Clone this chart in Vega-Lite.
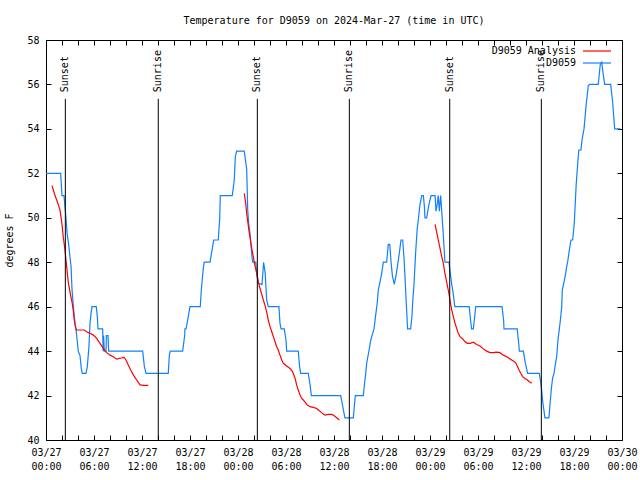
{
  "$schema": "https://vega.github.io/schema/vega-lite/v6.json",
  "width": 576,
  "height": 400,
  "autosize": {"type": "none"},
  "padding": {"left": 46, "top": 40, "right": 18, "bottom": 40},
  "background": "white",
  "title": {"text": "Temperature for D9059 on 2024-Mar-27 (time in UTC)", "font": "DejaVu Sans Mono", "fontSize": 10, "fontWeight": "normal", "color": "black", "anchor": "middle", "offset": 1, "baseline": "alphabetic"},
  "config": {
    "view": {"stroke": "black", "strokeWidth": 1},
    "axis": {"grid": false, "domain": false, "labelFont": "DejaVu Sans Mono", "labelFontSize": 10, "labelColor": "black", "tickColor": "black", "tickSize": -5, "tickWidth": 1, "titleFont": "DejaVu Sans Mono", "titleFontSize": 10, "titleFontWeight": "normal", "titleColor": "black"}
  },
  "datasets": {
    "obs": [
      {"time": "2024-03-27T00:00:00Z", "temp": 52, "series": "D9059", "segment": "obs"},
      {"time": "2024-03-27T01:50:00Z", "temp": 52, "series": "D9059", "segment": "obs"},
      {"time": "2024-03-27T02:00:00Z", "temp": 51, "series": "D9059", "segment": "obs"},
      {"time": "2024-03-27T02:15:00Z", "temp": 51, "series": "D9059", "segment": "obs"},
      {"time": "2024-03-27T02:22:00Z", "temp": 50.5, "series": "D9059", "segment": "obs"},
      {"time": "2024-03-27T02:30:00Z", "temp": 50, "series": "D9059", "segment": "obs"},
      {"time": "2024-03-27T02:38:00Z", "temp": 49.3, "series": "D9059", "segment": "obs"},
      {"time": "2024-03-27T02:50:00Z", "temp": 48.8, "series": "D9059", "segment": "obs"},
      {"time": "2024-03-27T03:00:00Z", "temp": 48.2, "series": "D9059", "segment": "obs"},
      {"time": "2024-03-27T03:08:00Z", "temp": 47.8, "series": "D9059", "segment": "obs"},
      {"time": "2024-03-27T03:15:00Z", "temp": 46.8, "series": "D9059", "segment": "obs"},
      {"time": "2024-03-27T03:25:00Z", "temp": 46, "series": "D9059", "segment": "obs"},
      {"time": "2024-03-27T03:38:00Z", "temp": 45.25, "series": "D9059", "segment": "obs"},
      {"time": "2024-03-27T03:45:00Z", "temp": 45, "series": "D9059", "segment": "obs"},
      {"time": "2024-03-27T03:50:00Z", "temp": 44.7, "series": "D9059", "segment": "obs"},
      {"time": "2024-03-27T04:02:00Z", "temp": 44, "series": "D9059", "segment": "obs"},
      {"time": "2024-03-27T04:15:00Z", "temp": 43.8, "series": "D9059", "segment": "obs"},
      {"time": "2024-03-27T04:25:00Z", "temp": 43.2, "series": "D9059", "segment": "obs"},
      {"time": "2024-03-27T04:32:00Z", "temp": 43, "series": "D9059", "segment": "obs"},
      {"time": "2024-03-27T05:00:00Z", "temp": 43, "series": "D9059", "segment": "obs"},
      {"time": "2024-03-27T05:10:00Z", "temp": 43.3, "series": "D9059", "segment": "obs"},
      {"time": "2024-03-27T05:22:00Z", "temp": 44.2, "series": "D9059", "segment": "obs"},
      {"time": "2024-03-27T05:30:00Z", "temp": 45.25, "series": "D9059", "segment": "obs"},
      {"time": "2024-03-27T05:38:00Z", "temp": 45.7, "series": "D9059", "segment": "obs"},
      {"time": "2024-03-27T05:45:00Z", "temp": 46, "series": "D9059", "segment": "obs"},
      {"time": "2024-03-27T06:17:00Z", "temp": 46, "series": "D9059", "segment": "obs"},
      {"time": "2024-03-27T06:25:00Z", "temp": 45.55, "series": "D9059", "segment": "obs"},
      {"time": "2024-03-27T06:30:00Z", "temp": 45, "series": "D9059", "segment": "obs"},
      {"time": "2024-03-27T07:05:00Z", "temp": 45, "series": "D9059", "segment": "obs"},
      {"time": "2024-03-27T07:08:00Z", "temp": 44, "series": "D9059", "segment": "obs"},
      {"time": "2024-03-27T07:12:00Z", "temp": 44.7, "series": "D9059", "segment": "obs"},
      {"time": "2024-03-27T07:17:00Z", "temp": 44, "series": "D9059", "segment": "obs"},
      {"time": "2024-03-27T07:30:00Z", "temp": 44, "series": "D9059", "segment": "obs"},
      {"time": "2024-03-27T07:33:00Z", "temp": 44.7, "series": "D9059", "segment": "obs"},
      {"time": "2024-03-27T07:45:00Z", "temp": 44.7, "series": "D9059", "segment": "obs"},
      {"time": "2024-03-27T07:50:00Z", "temp": 44, "series": "D9059", "segment": "obs"},
      {"time": "2024-03-27T12:05:00Z", "temp": 44, "series": "D9059", "segment": "obs"},
      {"time": "2024-03-27T12:18:00Z", "temp": 43.3, "series": "D9059", "segment": "obs"},
      {"time": "2024-03-27T12:30:00Z", "temp": 43, "series": "D9059", "segment": "obs"},
      {"time": "2024-03-27T15:17:00Z", "temp": 43, "series": "D9059", "segment": "obs"},
      {"time": "2024-03-27T15:25:00Z", "temp": 43.8, "series": "D9059", "segment": "obs"},
      {"time": "2024-03-27T15:32:00Z", "temp": 44, "series": "D9059", "segment": "obs"},
      {"time": "2024-03-27T17:05:00Z", "temp": 44, "series": "D9059", "segment": "obs"},
      {"time": "2024-03-27T17:20:00Z", "temp": 44.7, "series": "D9059", "segment": "obs"},
      {"time": "2024-03-27T17:22:00Z", "temp": 45, "series": "D9059", "segment": "obs"},
      {"time": "2024-03-27T17:30:00Z", "temp": 45, "series": "D9059", "segment": "obs"},
      {"time": "2024-03-27T17:37:00Z", "temp": 45.2, "series": "D9059", "segment": "obs"},
      {"time": "2024-03-27T18:00:00Z", "temp": 46, "series": "D9059", "segment": "obs"},
      {"time": "2024-03-27T19:17:00Z", "temp": 46, "series": "D9059", "segment": "obs"},
      {"time": "2024-03-27T19:25:00Z", "temp": 46.75, "series": "D9059", "segment": "obs"},
      {"time": "2024-03-27T19:40:00Z", "temp": 47.75, "series": "D9059", "segment": "obs"},
      {"time": "2024-03-27T19:47:00Z", "temp": 48, "series": "D9059", "segment": "obs"},
      {"time": "2024-03-27T20:30:00Z", "temp": 48, "series": "D9059", "segment": "obs"},
      {"time": "2024-03-27T20:47:00Z", "temp": 48.6, "series": "D9059", "segment": "obs"},
      {"time": "2024-03-27T20:58:00Z", "temp": 49, "series": "D9059", "segment": "obs"},
      {"time": "2024-03-27T21:32:00Z", "temp": 49, "series": "D9059", "segment": "obs"},
      {"time": "2024-03-27T21:43:00Z", "temp": 50, "series": "D9059", "segment": "obs"},
      {"time": "2024-03-27T21:47:00Z", "temp": 51, "series": "D9059", "segment": "obs"},
      {"time": "2024-03-27T23:17:00Z", "temp": 51, "series": "D9059", "segment": "obs"},
      {"time": "2024-03-27T23:32:00Z", "temp": 51.7, "series": "D9059", "segment": "obs"},
      {"time": "2024-03-27T23:40:00Z", "temp": 52.75, "series": "D9059", "segment": "obs"},
      {"time": "2024-03-27T23:50:00Z", "temp": 53, "series": "D9059", "segment": "obs"},
      {"time": "2024-03-28T00:47:00Z", "temp": 53, "series": "D9059", "segment": "obs"},
      {"time": "2024-03-28T00:58:00Z", "temp": 52.5, "series": "D9059", "segment": "obs"},
      {"time": "2024-03-28T01:05:00Z", "temp": 52.2, "series": "D9059", "segment": "obs"},
      {"time": "2024-03-28T01:08:00Z", "temp": 51.55, "series": "D9059", "segment": "obs"},
      {"time": "2024-03-28T01:13:00Z", "temp": 50.35, "series": "D9059", "segment": "obs"},
      {"time": "2024-03-28T01:20:00Z", "temp": 49.75, "series": "D9059", "segment": "obs"},
      {"time": "2024-03-28T01:30:00Z", "temp": 49.3, "series": "D9059", "segment": "obs"},
      {"time": "2024-03-28T01:38:00Z", "temp": 48.7, "series": "D9059", "segment": "obs"},
      {"time": "2024-03-28T01:45:00Z", "temp": 48.25, "series": "D9059", "segment": "obs"},
      {"time": "2024-03-28T01:50:00Z", "temp": 48, "series": "D9059", "segment": "obs"},
      {"time": "2024-03-28T02:13:00Z", "temp": 48, "series": "D9059", "segment": "obs"},
      {"time": "2024-03-28T02:20:00Z", "temp": 47.5, "series": "D9059", "segment": "obs"},
      {"time": "2024-03-28T02:32:00Z", "temp": 47.05, "series": "D9059", "segment": "obs"},
      {"time": "2024-03-28T03:00:00Z", "temp": 47, "series": "D9059", "segment": "obs"},
      {"time": "2024-03-28T03:12:00Z", "temp": 48, "series": "D9059", "segment": "obs"},
      {"time": "2024-03-28T03:24:00Z", "temp": 47.5, "series": "D9059", "segment": "obs"},
      {"time": "2024-03-28T03:35:00Z", "temp": 46.3, "series": "D9059", "segment": "obs"},
      {"time": "2024-03-28T03:47:00Z", "temp": 46, "series": "D9059", "segment": "obs"},
      {"time": "2024-03-28T05:07:00Z", "temp": 46, "series": "D9059", "segment": "obs"},
      {"time": "2024-03-28T05:15:00Z", "temp": 45.25, "series": "D9059", "segment": "obs"},
      {"time": "2024-03-28T05:23:00Z", "temp": 45, "series": "D9059", "segment": "obs"},
      {"time": "2024-03-28T05:47:00Z", "temp": 45, "series": "D9059", "segment": "obs"},
      {"time": "2024-03-28T06:00:00Z", "temp": 44.5, "series": "D9059", "segment": "obs"},
      {"time": "2024-03-28T06:05:00Z", "temp": 44, "series": "D9059", "segment": "obs"},
      {"time": "2024-03-28T07:32:00Z", "temp": 44, "series": "D9059", "segment": "obs"},
      {"time": "2024-03-28T07:42:00Z", "temp": 43.3, "series": "D9059", "segment": "obs"},
      {"time": "2024-03-28T07:50:00Z", "temp": 43, "series": "D9059", "segment": "obs"},
      {"time": "2024-03-28T08:47:00Z", "temp": 43, "series": "D9059", "segment": "obs"},
      {"time": "2024-03-28T09:00:00Z", "temp": 42.5, "series": "D9059", "segment": "obs"},
      {"time": "2024-03-28T09:10:00Z", "temp": 42, "series": "D9059", "segment": "obs"},
      {"time": "2024-03-28T12:50:00Z", "temp": 42, "series": "D9059", "segment": "obs"},
      {"time": "2024-03-28T13:00:00Z", "temp": 41.7, "series": "D9059", "segment": "obs"},
      {"time": "2024-03-28T13:12:00Z", "temp": 41.3, "series": "D9059", "segment": "obs"},
      {"time": "2024-03-28T13:22:00Z", "temp": 41, "series": "D9059", "segment": "obs"},
      {"time": "2024-03-28T14:25:00Z", "temp": 41, "series": "D9059", "segment": "obs"},
      {"time": "2024-03-28T14:32:00Z", "temp": 41.5, "series": "D9059", "segment": "obs"},
      {"time": "2024-03-28T14:40:00Z", "temp": 42, "series": "D9059", "segment": "obs"},
      {"time": "2024-03-28T15:40:00Z", "temp": 42, "series": "D9059", "segment": "obs"},
      {"time": "2024-03-28T15:48:00Z", "temp": 42.5, "series": "D9059", "segment": "obs"},
      {"time": "2024-03-28T15:58:00Z", "temp": 43, "series": "D9059", "segment": "obs"},
      {"time": "2024-03-28T16:06:00Z", "temp": 43.5, "series": "D9059", "segment": "obs"},
      {"time": "2024-03-28T16:22:00Z", "temp": 44, "series": "D9059", "segment": "obs"},
      {"time": "2024-03-28T16:36:00Z", "temp": 44.5, "series": "D9059", "segment": "obs"},
      {"time": "2024-03-28T16:50:00Z", "temp": 44.8, "series": "D9059", "segment": "obs"},
      {"time": "2024-03-28T17:00:00Z", "temp": 45, "series": "D9059", "segment": "obs"},
      {"time": "2024-03-28T17:12:00Z", "temp": 45.6, "series": "D9059", "segment": "obs"},
      {"time": "2024-03-28T17:25:00Z", "temp": 46.2, "series": "D9059", "segment": "obs"},
      {"time": "2024-03-28T17:32:00Z", "temp": 46.75, "series": "D9059", "segment": "obs"},
      {"time": "2024-03-28T17:43:00Z", "temp": 47.05, "series": "D9059", "segment": "obs"},
      {"time": "2024-03-28T17:58:00Z", "temp": 47.5, "series": "D9059", "segment": "obs"},
      {"time": "2024-03-28T18:10:00Z", "temp": 48, "series": "D9059", "segment": "obs"},
      {"time": "2024-03-28T18:35:00Z", "temp": 48, "series": "D9059", "segment": "obs"},
      {"time": "2024-03-28T18:47:00Z", "temp": 48.8, "series": "D9059", "segment": "obs"},
      {"time": "2024-03-28T18:58:00Z", "temp": 48.8, "series": "D9059", "segment": "obs"},
      {"time": "2024-03-28T19:08:00Z", "temp": 48, "series": "D9059", "segment": "obs"},
      {"time": "2024-03-28T19:18:00Z", "temp": 47.4, "series": "D9059", "segment": "obs"},
      {"time": "2024-03-28T19:32:00Z", "temp": 47, "series": "D9059", "segment": "obs"},
      {"time": "2024-03-28T19:45:00Z", "temp": 47.4, "series": "D9059", "segment": "obs"},
      {"time": "2024-03-28T19:58:00Z", "temp": 47.9, "series": "D9059", "segment": "obs"},
      {"time": "2024-03-28T20:12:00Z", "temp": 48.5, "series": "D9059", "segment": "obs"},
      {"time": "2024-03-28T20:22:00Z", "temp": 49, "series": "D9059", "segment": "obs"},
      {"time": "2024-03-28T20:35:00Z", "temp": 49, "series": "D9059", "segment": "obs"},
      {"time": "2024-03-28T20:45:00Z", "temp": 48.2, "series": "D9059", "segment": "obs"},
      {"time": "2024-03-28T20:52:00Z", "temp": 47.4, "series": "D9059", "segment": "obs"},
      {"time": "2024-03-28T21:00:00Z", "temp": 46.4, "series": "D9059", "segment": "obs"},
      {"time": "2024-03-28T21:12:00Z", "temp": 45, "series": "D9059", "segment": "obs"},
      {"time": "2024-03-28T21:35:00Z", "temp": 45, "series": "D9059", "segment": "obs"},
      {"time": "2024-03-28T21:45:00Z", "temp": 45.6, "series": "D9059", "segment": "obs"},
      {"time": "2024-03-28T21:50:00Z", "temp": 46.2, "series": "D9059", "segment": "obs"},
      {"time": "2024-03-28T22:00:00Z", "temp": 47, "series": "D9059", "segment": "obs"},
      {"time": "2024-03-28T22:12:00Z", "temp": 48.4, "series": "D9059", "segment": "obs"},
      {"time": "2024-03-28T22:24:00Z", "temp": 49.5, "series": "D9059", "segment": "obs"},
      {"time": "2024-03-28T22:32:00Z", "temp": 49.9, "series": "D9059", "segment": "obs"},
      {"time": "2024-03-28T22:45:00Z", "temp": 50.6, "series": "D9059", "segment": "obs"},
      {"time": "2024-03-28T22:58:00Z", "temp": 51, "series": "D9059", "segment": "obs"},
      {"time": "2024-03-28T23:10:00Z", "temp": 51, "series": "D9059", "segment": "obs"},
      {"time": "2024-03-28T23:18:00Z", "temp": 50.5, "series": "D9059", "segment": "obs"},
      {"time": "2024-03-28T23:22:00Z", "temp": 50, "series": "D9059", "segment": "obs"},
      {"time": "2024-03-28T23:35:00Z", "temp": 50, "series": "D9059", "segment": "obs"},
      {"time": "2024-03-28T23:52:00Z", "temp": 50.6, "series": "D9059", "segment": "obs"},
      {"time": "2024-03-29T00:08:00Z", "temp": 51, "series": "D9059", "segment": "obs"},
      {"time": "2024-03-29T00:38:00Z", "temp": 51, "series": "D9059", "segment": "obs"},
      {"time": "2024-03-29T00:45:00Z", "temp": 50.3, "series": "D9059", "segment": "obs"},
      {"time": "2024-03-29T00:54:00Z", "temp": 50.6, "series": "D9059", "segment": "obs"},
      {"time": "2024-03-29T01:02:00Z", "temp": 51, "series": "D9059", "segment": "obs"},
      {"time": "2024-03-29T01:10:00Z", "temp": 50.3, "series": "D9059", "segment": "obs"},
      {"time": "2024-03-29T01:20:00Z", "temp": 51, "series": "D9059", "segment": "obs"},
      {"time": "2024-03-29T01:28:00Z", "temp": 50.3, "series": "D9059", "segment": "obs"},
      {"time": "2024-03-29T01:40:00Z", "temp": 49.2, "series": "D9059", "segment": "obs"},
      {"time": "2024-03-29T01:52:00Z", "temp": 48, "series": "D9059", "segment": "obs"},
      {"time": "2024-03-29T02:22:00Z", "temp": 48, "series": "D9059", "segment": "obs"},
      {"time": "2024-03-29T02:30:00Z", "temp": 47.6, "series": "D9059", "segment": "obs"},
      {"time": "2024-03-29T02:43:00Z", "temp": 47, "series": "D9059", "segment": "obs"},
      {"time": "2024-03-29T02:54:00Z", "temp": 46.6, "series": "D9059", "segment": "obs"},
      {"time": "2024-03-29T03:06:00Z", "temp": 46, "series": "D9059", "segment": "obs"},
      {"time": "2024-03-29T04:54:00Z", "temp": 46, "series": "D9059", "segment": "obs"},
      {"time": "2024-03-29T05:06:00Z", "temp": 45.3, "series": "D9059", "segment": "obs"},
      {"time": "2024-03-29T05:12:00Z", "temp": 45, "series": "D9059", "segment": "obs"},
      {"time": "2024-03-29T05:25:00Z", "temp": 45, "series": "D9059", "segment": "obs"},
      {"time": "2024-03-29T05:36:00Z", "temp": 45.6, "series": "D9059", "segment": "obs"},
      {"time": "2024-03-29T05:43:00Z", "temp": 46, "series": "D9059", "segment": "obs"},
      {"time": "2024-03-29T09:00:00Z", "temp": 46, "series": "D9059", "segment": "obs"},
      {"time": "2024-03-29T09:12:00Z", "temp": 45.4, "series": "D9059", "segment": "obs"},
      {"time": "2024-03-29T09:15:00Z", "temp": 45, "series": "D9059", "segment": "obs"},
      {"time": "2024-03-29T10:54:00Z", "temp": 45, "series": "D9059", "segment": "obs"},
      {"time": "2024-03-29T11:06:00Z", "temp": 44.3, "series": "D9059", "segment": "obs"},
      {"time": "2024-03-29T11:10:00Z", "temp": 44, "series": "D9059", "segment": "obs"},
      {"time": "2024-03-29T11:40:00Z", "temp": 44, "series": "D9059", "segment": "obs"},
      {"time": "2024-03-29T11:54:00Z", "temp": 43.5, "series": "D9059", "segment": "obs"},
      {"time": "2024-03-29T12:12:00Z", "temp": 43, "series": "D9059", "segment": "obs"},
      {"time": "2024-03-29T13:40:00Z", "temp": 43, "series": "D9059", "segment": "obs"},
      {"time": "2024-03-29T13:50:00Z", "temp": 42.6, "series": "D9059", "segment": "obs"},
      {"time": "2024-03-29T13:58:00Z", "temp": 42.2, "series": "D9059", "segment": "obs"},
      {"time": "2024-03-29T14:06:00Z", "temp": 41.7, "series": "D9059", "segment": "obs"},
      {"time": "2024-03-29T14:22:00Z", "temp": 41, "series": "D9059", "segment": "obs"},
      {"time": "2024-03-29T14:52:00Z", "temp": 41, "series": "D9059", "segment": "obs"},
      {"time": "2024-03-29T15:00:00Z", "temp": 41.6, "series": "D9059", "segment": "obs"},
      {"time": "2024-03-29T15:10:00Z", "temp": 42.3, "series": "D9059", "segment": "obs"},
      {"time": "2024-03-29T15:20:00Z", "temp": 42.8, "series": "D9059", "segment": "obs"},
      {"time": "2024-03-29T15:30:00Z", "temp": 43, "series": "D9059", "segment": "obs"},
      {"time": "2024-03-29T15:40:00Z", "temp": 43.4, "series": "D9059", "segment": "obs"},
      {"time": "2024-03-29T15:50:00Z", "temp": 43.75, "series": "D9059", "segment": "obs"},
      {"time": "2024-03-29T16:00:00Z", "temp": 44.5, "series": "D9059", "segment": "obs"},
      {"time": "2024-03-29T16:10:00Z", "temp": 45, "series": "D9059", "segment": "obs"},
      {"time": "2024-03-29T16:18:00Z", "temp": 45.4, "series": "D9059", "segment": "obs"},
      {"time": "2024-03-29T16:28:00Z", "temp": 46, "series": "D9059", "segment": "obs"},
      {"time": "2024-03-29T16:32:00Z", "temp": 46.75, "series": "D9059", "segment": "obs"},
      {"time": "2024-03-29T16:45:00Z", "temp": 47.1, "series": "D9059", "segment": "obs"},
      {"time": "2024-03-29T16:58:00Z", "temp": 47.5, "series": "D9059", "segment": "obs"},
      {"time": "2024-03-29T17:05:00Z", "temp": 47.8, "series": "D9059", "segment": "obs"},
      {"time": "2024-03-29T17:12:00Z", "temp": 48, "series": "D9059", "segment": "obs"},
      {"time": "2024-03-29T17:30:00Z", "temp": 48.75, "series": "D9059", "segment": "obs"},
      {"time": "2024-03-29T17:38:00Z", "temp": 49, "series": "D9059", "segment": "obs"},
      {"time": "2024-03-29T17:50:00Z", "temp": 49, "series": "D9059", "segment": "obs"},
      {"time": "2024-03-29T18:02:00Z", "temp": 49.75, "series": "D9059", "segment": "obs"},
      {"time": "2024-03-29T18:08:00Z", "temp": 50.5, "series": "D9059", "segment": "obs"},
      {"time": "2024-03-29T18:17:00Z", "temp": 51.55, "series": "D9059", "segment": "obs"},
      {"time": "2024-03-29T18:28:00Z", "temp": 52.45, "series": "D9059", "segment": "obs"},
      {"time": "2024-03-29T18:36:00Z", "temp": 53.05, "series": "D9059", "segment": "obs"},
      {"time": "2024-03-29T18:52:00Z", "temp": 53.05, "series": "D9059", "segment": "obs"},
      {"time": "2024-03-29T19:00:00Z", "temp": 53.5, "series": "D9059", "segment": "obs"},
      {"time": "2024-03-29T19:15:00Z", "temp": 54, "series": "D9059", "segment": "obs"},
      {"time": "2024-03-29T19:30:00Z", "temp": 55, "series": "D9059", "segment": "obs"},
      {"time": "2024-03-29T19:47:00Z", "temp": 55.95, "series": "D9059", "segment": "obs"},
      {"time": "2024-03-29T20:00:00Z", "temp": 56, "series": "D9059", "segment": "obs"},
      {"time": "2024-03-29T21:02:00Z", "temp": 56, "series": "D9059", "segment": "obs"},
      {"time": "2024-03-29T21:17:00Z", "temp": 56.9, "series": "D9059", "segment": "obs"},
      {"time": "2024-03-29T21:28:00Z", "temp": 57, "series": "D9059", "segment": "obs"},
      {"time": "2024-03-29T21:38:00Z", "temp": 56.5, "series": "D9059", "segment": "obs"},
      {"time": "2024-03-29T21:50:00Z", "temp": 56, "series": "D9059", "segment": "obs"},
      {"time": "2024-03-29T22:35:00Z", "temp": 56, "series": "D9059", "segment": "obs"},
      {"time": "2024-03-29T22:50:00Z", "temp": 55.2, "series": "D9059", "segment": "obs"},
      {"time": "2024-03-29T22:58:00Z", "temp": 54.55, "series": "D9059", "segment": "obs"},
      {"time": "2024-03-29T23:05:00Z", "temp": 54, "series": "D9059", "segment": "obs"},
      {"time": "2024-03-29T23:48:00Z", "temp": 54, "series": "D9059", "segment": "obs"},
      {"time": "2024-03-27T00:45:00Z", "temp": 51.45, "series": "D9059 Analysis", "segment": "a1"},
      {"time": "2024-03-27T00:55:00Z", "temp": 51.25, "series": "D9059 Analysis", "segment": "a1"},
      {"time": "2024-03-27T01:08:00Z", "temp": 51.0, "series": "D9059 Analysis", "segment": "a1"},
      {"time": "2024-03-27T01:20:00Z", "temp": 50.8, "series": "D9059 Analysis", "segment": "a1"},
      {"time": "2024-03-27T01:32:00Z", "temp": 50.6, "series": "D9059 Analysis", "segment": "a1"},
      {"time": "2024-03-27T01:45:00Z", "temp": 50.35, "series": "D9059 Analysis", "segment": "a1"},
      {"time": "2024-03-27T01:52:00Z", "temp": 50.05, "series": "D9059 Analysis", "segment": "a1"},
      {"time": "2024-03-27T02:00:00Z", "temp": 49.7, "series": "D9059 Analysis", "segment": "a1"},
      {"time": "2024-03-27T02:05:00Z", "temp": 49.4, "series": "D9059 Analysis", "segment": "a1"},
      {"time": "2024-03-27T02:10:00Z", "temp": 49.1, "series": "D9059 Analysis", "segment": "a1"},
      {"time": "2024-03-27T02:17:00Z", "temp": 48.8, "series": "D9059 Analysis", "segment": "a1"},
      {"time": "2024-03-27T02:25:00Z", "temp": 48.4, "series": "D9059 Analysis", "segment": "a1"},
      {"time": "2024-03-27T02:30:00Z", "temp": 48.1, "series": "D9059 Analysis", "segment": "a1"},
      {"time": "2024-03-27T02:40:00Z", "temp": 47.5, "series": "D9059 Analysis", "segment": "a1"},
      {"time": "2024-03-27T02:47:00Z", "temp": 47.1, "series": "D9059 Analysis", "segment": "a1"},
      {"time": "2024-03-27T03:05:00Z", "temp": 46.5, "series": "D9059 Analysis", "segment": "a1"},
      {"time": "2024-03-27T03:17:00Z", "temp": 46.15, "series": "D9059 Analysis", "segment": "a1"},
      {"time": "2024-03-27T03:25:00Z", "temp": 45.8, "series": "D9059 Analysis", "segment": "a1"},
      {"time": "2024-03-27T03:32:00Z", "temp": 45.4, "series": "D9059 Analysis", "segment": "a1"},
      {"time": "2024-03-27T03:40:00Z", "temp": 45.1, "series": "D9059 Analysis", "segment": "a1"},
      {"time": "2024-03-27T03:47:00Z", "temp": 44.95, "series": "D9059 Analysis", "segment": "a1"},
      {"time": "2024-03-27T04:47:00Z", "temp": 44.95, "series": "D9059 Analysis", "segment": "a1"},
      {"time": "2024-03-27T05:05:00Z", "temp": 44.87, "series": "D9059 Analysis", "segment": "a1"},
      {"time": "2024-03-27T05:30:00Z", "temp": 44.8, "series": "D9059 Analysis", "segment": "a1"},
      {"time": "2024-03-27T05:55:00Z", "temp": 44.72, "series": "D9059 Analysis", "segment": "a1"},
      {"time": "2024-03-27T06:20:00Z", "temp": 44.57, "series": "D9059 Analysis", "segment": "a1"},
      {"time": "2024-03-27T06:45:00Z", "temp": 44.35, "series": "D9059 Analysis", "segment": "a1"},
      {"time": "2024-03-27T07:10:00Z", "temp": 44.12, "series": "D9059 Analysis", "segment": "a1"},
      {"time": "2024-03-27T07:35:00Z", "temp": 43.93, "series": "D9059 Analysis", "segment": "a1"},
      {"time": "2024-03-27T08:00:00Z", "temp": 43.82, "series": "D9059 Analysis", "segment": "a1"},
      {"time": "2024-03-27T08:25:00Z", "temp": 43.75, "series": "D9059 Analysis", "segment": "a1"},
      {"time": "2024-03-27T08:50:00Z", "temp": 43.64, "series": "D9059 Analysis", "segment": "a1"},
      {"time": "2024-03-27T09:15:00Z", "temp": 43.68, "series": "D9059 Analysis", "segment": "a1"},
      {"time": "2024-03-27T09:45:00Z", "temp": 43.72, "series": "D9059 Analysis", "segment": "a1"},
      {"time": "2024-03-27T10:00:00Z", "temp": 43.6, "series": "D9059 Analysis", "segment": "a1"},
      {"time": "2024-03-27T10:17:00Z", "temp": 43.38, "series": "D9059 Analysis", "segment": "a1"},
      {"time": "2024-03-27T10:35:00Z", "temp": 43.15, "series": "D9059 Analysis", "segment": "a1"},
      {"time": "2024-03-27T10:55:00Z", "temp": 42.93, "series": "D9059 Analysis", "segment": "a1"},
      {"time": "2024-03-27T11:20:00Z", "temp": 42.7, "series": "D9059 Analysis", "segment": "a1"},
      {"time": "2024-03-27T11:45:00Z", "temp": 42.48, "series": "D9059 Analysis", "segment": "a1"},
      {"time": "2024-03-27T12:15:00Z", "temp": 42.46, "series": "D9059 Analysis", "segment": "a1"},
      {"time": "2024-03-27T12:47:00Z", "temp": 42.46, "series": "D9059 Analysis", "segment": "a1"},
      {"time": "2024-03-28T00:47:00Z", "temp": 51.1, "series": "D9059 Analysis", "segment": "a2"},
      {"time": "2024-03-28T00:58:00Z", "temp": 50.65, "series": "D9059 Analysis", "segment": "a2"},
      {"time": "2024-03-28T01:05:00Z", "temp": 50.2, "series": "D9059 Analysis", "segment": "a2"},
      {"time": "2024-03-28T01:15:00Z", "temp": 49.75, "series": "D9059 Analysis", "segment": "a2"},
      {"time": "2024-03-28T01:25:00Z", "temp": 49.3, "series": "D9059 Analysis", "segment": "a2"},
      {"time": "2024-03-28T01:35:00Z", "temp": 48.95, "series": "D9059 Analysis", "segment": "a2"},
      {"time": "2024-03-28T01:45:00Z", "temp": 48.55, "series": "D9059 Analysis", "segment": "a2"},
      {"time": "2024-03-28T01:55:00Z", "temp": 48.25, "series": "D9059 Analysis", "segment": "a2"},
      {"time": "2024-03-28T02:05:00Z", "temp": 47.9, "series": "D9059 Analysis", "segment": "a2"},
      {"time": "2024-03-28T02:15:00Z", "temp": 47.65, "series": "D9059 Analysis", "segment": "a2"},
      {"time": "2024-03-28T02:35:00Z", "temp": 47.05, "series": "D9059 Analysis", "segment": "a2"},
      {"time": "2024-03-28T02:45:00Z", "temp": 46.83, "series": "D9059 Analysis", "segment": "a2"},
      {"time": "2024-03-28T02:58:00Z", "temp": 46.55, "series": "D9059 Analysis", "segment": "a2"},
      {"time": "2024-03-28T03:10:00Z", "temp": 46.3, "series": "D9059 Analysis", "segment": "a2"},
      {"time": "2024-03-28T03:22:00Z", "temp": 46.07, "series": "D9059 Analysis", "segment": "a2"},
      {"time": "2024-03-28T03:35:00Z", "temp": 45.77, "series": "D9059 Analysis", "segment": "a2"},
      {"time": "2024-03-28T03:47:00Z", "temp": 45.4, "series": "D9059 Analysis", "segment": "a2"},
      {"time": "2024-03-28T04:00:00Z", "temp": 45.1, "series": "D9059 Analysis", "segment": "a2"},
      {"time": "2024-03-28T04:13:00Z", "temp": 44.87, "series": "D9059 Analysis", "segment": "a2"},
      {"time": "2024-03-28T04:25:00Z", "temp": 44.65, "series": "D9059 Analysis", "segment": "a2"},
      {"time": "2024-03-28T04:38:00Z", "temp": 44.42, "series": "D9059 Analysis", "segment": "a2"},
      {"time": "2024-03-28T04:50:00Z", "temp": 44.2, "series": "D9059 Analysis", "segment": "a2"},
      {"time": "2024-03-28T05:02:00Z", "temp": 44.05, "series": "D9059 Analysis", "segment": "a2"},
      {"time": "2024-03-28T05:15:00Z", "temp": 43.82, "series": "D9059 Analysis", "segment": "a2"},
      {"time": "2024-03-28T05:28:00Z", "temp": 43.6, "series": "D9059 Analysis", "segment": "a2"},
      {"time": "2024-03-28T05:40:00Z", "temp": 43.45, "series": "D9059 Analysis", "segment": "a2"},
      {"time": "2024-03-28T06:05:00Z", "temp": 43.33, "series": "D9059 Analysis", "segment": "a2"},
      {"time": "2024-03-28T06:30:00Z", "temp": 43.22, "series": "D9059 Analysis", "segment": "a2"},
      {"time": "2024-03-28T06:50:00Z", "temp": 43.07, "series": "D9059 Analysis", "segment": "a2"},
      {"time": "2024-03-28T07:08:00Z", "temp": 42.78, "series": "D9059 Analysis", "segment": "a2"},
      {"time": "2024-03-28T07:20:00Z", "temp": 42.47, "series": "D9059 Analysis", "segment": "a2"},
      {"time": "2024-03-28T07:32:00Z", "temp": 42.25, "series": "D9059 Analysis", "segment": "a2"},
      {"time": "2024-03-28T07:45:00Z", "temp": 42.02, "series": "D9059 Analysis", "segment": "a2"},
      {"time": "2024-03-28T07:58:00Z", "temp": 41.87, "series": "D9059 Analysis", "segment": "a2"},
      {"time": "2024-03-28T08:10:00Z", "temp": 41.8, "series": "D9059 Analysis", "segment": "a2"},
      {"time": "2024-03-28T08:22:00Z", "temp": 41.72, "series": "D9059 Analysis", "segment": "a2"},
      {"time": "2024-03-28T08:40:00Z", "temp": 41.57, "series": "D9059 Analysis", "segment": "a2"},
      {"time": "2024-03-28T09:00:00Z", "temp": 41.5, "series": "D9059 Analysis", "segment": "a2"},
      {"time": "2024-03-28T09:25:00Z", "temp": 41.47, "series": "D9059 Analysis", "segment": "a2"},
      {"time": "2024-03-28T09:50:00Z", "temp": 41.42, "series": "D9059 Analysis", "segment": "a2"},
      {"time": "2024-03-28T10:10:00Z", "temp": 41.32, "series": "D9059 Analysis", "segment": "a2"},
      {"time": "2024-03-28T10:28:00Z", "temp": 41.22, "series": "D9059 Analysis", "segment": "a2"},
      {"time": "2024-03-28T10:52:00Z", "temp": 41.12, "series": "D9059 Analysis", "segment": "a2"},
      {"time": "2024-03-28T11:17:00Z", "temp": 41.15, "series": "D9059 Analysis", "segment": "a2"},
      {"time": "2024-03-28T11:43:00Z", "temp": 41.15, "series": "D9059 Analysis", "segment": "a2"},
      {"time": "2024-03-28T12:00:00Z", "temp": 41.1, "series": "D9059 Analysis", "segment": "a2"},
      {"time": "2024-03-28T12:20:00Z", "temp": 41.0, "series": "D9059 Analysis", "segment": "a2"},
      {"time": "2024-03-28T12:40:00Z", "temp": 40.9, "series": "D9059 Analysis", "segment": "a2"},
      {"time": "2024-03-29T00:38:00Z", "temp": 49.7, "series": "D9059 Analysis", "segment": "a3"},
      {"time": "2024-03-29T00:50:00Z", "temp": 49.35, "series": "D9059 Analysis", "segment": "a3"},
      {"time": "2024-03-29T01:02:00Z", "temp": 49.0, "series": "D9059 Analysis", "segment": "a3"},
      {"time": "2024-03-29T01:15:00Z", "temp": 48.63, "series": "D9059 Analysis", "segment": "a3"},
      {"time": "2024-03-29T01:28:00Z", "temp": 48.25, "series": "D9059 Analysis", "segment": "a3"},
      {"time": "2024-03-29T01:40:00Z", "temp": 47.95, "series": "D9059 Analysis", "segment": "a3"},
      {"time": "2024-03-29T01:52:00Z", "temp": 47.5, "series": "D9059 Analysis", "segment": "a3"},
      {"time": "2024-03-29T02:05:00Z", "temp": 47.1, "series": "D9059 Analysis", "segment": "a3"},
      {"time": "2024-03-29T02:17:00Z", "temp": 46.75, "series": "D9059 Analysis", "segment": "a3"},
      {"time": "2024-03-29T02:30:00Z", "temp": 46.3, "series": "D9059 Analysis", "segment": "a3"},
      {"time": "2024-03-29T02:43:00Z", "temp": 45.85, "series": "D9059 Analysis", "segment": "a3"},
      {"time": "2024-03-29T02:55:00Z", "temp": 45.55, "series": "D9059 Analysis", "segment": "a3"},
      {"time": "2024-03-29T03:08:00Z", "temp": 45.25, "series": "D9059 Analysis", "segment": "a3"},
      {"time": "2024-03-29T03:20:00Z", "temp": 45.02, "series": "D9059 Analysis", "segment": "a3"},
      {"time": "2024-03-29T03:32:00Z", "temp": 44.8, "series": "D9059 Analysis", "segment": "a3"},
      {"time": "2024-03-29T03:45:00Z", "temp": 44.65, "series": "D9059 Analysis", "segment": "a3"},
      {"time": "2024-03-29T04:02:00Z", "temp": 44.57, "series": "D9059 Analysis", "segment": "a3"},
      {"time": "2024-03-29T04:22:00Z", "temp": 44.43, "series": "D9059 Analysis", "segment": "a3"},
      {"time": "2024-03-29T04:40:00Z", "temp": 44.35, "series": "D9059 Analysis", "segment": "a3"},
      {"time": "2024-03-29T05:00:00Z", "temp": 44.35, "series": "D9059 Analysis", "segment": "a3"},
      {"time": "2024-03-29T05:25:00Z", "temp": 44.4, "series": "D9059 Analysis", "segment": "a3"},
      {"time": "2024-03-29T05:50:00Z", "temp": 44.3, "series": "D9059 Analysis", "segment": "a3"},
      {"time": "2024-03-29T06:15:00Z", "temp": 44.23, "series": "D9059 Analysis", "segment": "a3"},
      {"time": "2024-03-29T06:40:00Z", "temp": 44.1, "series": "D9059 Analysis", "segment": "a3"},
      {"time": "2024-03-29T07:05:00Z", "temp": 44.0, "series": "D9059 Analysis", "segment": "a3"},
      {"time": "2024-03-29T07:30:00Z", "temp": 43.93, "series": "D9059 Analysis", "segment": "a3"},
      {"time": "2024-03-29T07:55:00Z", "temp": 43.93, "series": "D9059 Analysis", "segment": "a3"},
      {"time": "2024-03-29T08:20:00Z", "temp": 43.95, "series": "D9059 Analysis", "segment": "a3"},
      {"time": "2024-03-29T08:45:00Z", "temp": 43.93, "series": "D9059 Analysis", "segment": "a3"},
      {"time": "2024-03-29T09:10:00Z", "temp": 43.82, "series": "D9059 Analysis", "segment": "a3"},
      {"time": "2024-03-29T09:35:00Z", "temp": 43.75, "series": "D9059 Analysis", "segment": "a3"},
      {"time": "2024-03-29T10:00:00Z", "temp": 43.65, "series": "D9059 Analysis", "segment": "a3"},
      {"time": "2024-03-29T10:25:00Z", "temp": 43.55, "series": "D9059 Analysis", "segment": "a3"},
      {"time": "2024-03-29T10:43:00Z", "temp": 43.47, "series": "D9059 Analysis", "segment": "a3"},
      {"time": "2024-03-29T10:55:00Z", "temp": 43.33, "series": "D9059 Analysis", "segment": "a3"},
      {"time": "2024-03-29T11:08:00Z", "temp": 43.15, "series": "D9059 Analysis", "segment": "a3"},
      {"time": "2024-03-29T11:20:00Z", "temp": 43.0, "series": "D9059 Analysis", "segment": "a3"},
      {"time": "2024-03-29T11:35:00Z", "temp": 42.85, "series": "D9059 Analysis", "segment": "a3"},
      {"time": "2024-03-29T11:52:00Z", "temp": 42.77, "series": "D9059 Analysis", "segment": "a3"},
      {"time": "2024-03-29T12:10:00Z", "temp": 42.7, "series": "D9059 Analysis", "segment": "a3"},
      {"time": "2024-03-29T12:25:00Z", "temp": 42.62, "series": "D9059 Analysis", "segment": "a3"},
      {"time": "2024-03-29T12:43:00Z", "temp": 42.55, "series": "D9059 Analysis", "segment": "a3"}
    ],
    "sun": [
      {"time": "2024-03-27T02:25:00Z", "event": "Sunset"},
      {"time": "2024-03-27T14:02:00Z", "event": "Sunrise"},
      {"time": "2024-03-28T02:25:00Z", "event": "Sunset"},
      {"time": "2024-03-28T13:55:00Z", "event": "Sunrise"},
      {"time": "2024-03-29T02:28:00Z", "event": "Sunset"},
      {"time": "2024-03-29T13:55:00Z", "event": "Sunrise"}
    ]
  },
  "layer": [
    {
      "data": {"name": "obs"},
      "mark": {"type": "line", "strokeWidth": 1.2},
      "encoding": {
        "x": {"field": "time", "type": "temporal",
              "scale": {"type": "utc", "domain": [1711497600000, 1711756800000]},
              "axis": {"orient": "bottom", "title": null,
                       "values": [1711497600000, 1711504800000, 1711512000000, 1711519200000, 1711526400000, 1711533600000, 1711540800000, 1711548000000, 1711555200000, 1711562400000, 1711569600000, 1711576800000, 1711584000000, 1711591200000, 1711598400000, 1711605600000, 1711612800000, 1711620000000, 1711627200000, 1711634400000, 1711641600000, 1711648800000, 1711656000000, 1711663200000, 1711670400000, 1711677600000, 1711684800000, 1711692000000, 1711699200000, 1711706400000, 1711713600000, 1711720800000, 1711728000000, 1711735200000, 1711742400000, 1711749600000, 1711756800000],
                       "labelExpr": "utchours(datum.value) % 6 == 0 ? [utcFormat(datum.value, '%m/%d'), utcFormat(datum.value, '%H:%M')] : ''",
                       "labelFlush": false, "labelOverlap": false, "labelBound": false, "labelPadding": 12, "labelLineHeight": 14, "labelBaseline": "top"}},
        "y": {"field": "temp", "type": "quantitative",
              "scale": {"domain": [40, 58], "nice": false, "zero": false},
              "axis": {"orient": "left", "title": "degrees F", "values": [40, 42, 44, 46, 48, 50, 52, 54, 56, 58], "labelPadding": 12, "titlePadding": 12}},
        "color": {"field": "series", "type": "nominal",
                  "scale": {"domain": ["D9059 Analysis", "D9059"], "range": ["#ff0000", "#1080ff"]},
                  "legend": {"orient": "none", "legendX": 544, "legendY": 4, "title": null, "symbolType": "M-2.333,0H2.333", "symbolSize": 144, "symbolStrokeWidth": 1.2, "symbolFillColor": "transparent", "labelAlign": "right", "labelOffset": -28, "labelFont": "DejaVu Sans Mono", "labelFontSize": 10, "labelColor": "black", "rowPadding": 0, "padding": 0}},
        "detail": {"field": "segment", "type": "nominal"}
      }
    },
    {
      "data": {"name": "sun"},
      "mark": {"type": "rule", "color": "black", "strokeWidth": 1},
      "encoding": {
        "x": {"field": "time", "type": "temporal",
              "axis": {"orient": "top", "title": null, "labels": false,
                       "values": [1711497600000, 1711504800000, 1711512000000, 1711519200000, 1711526400000, 1711533600000, 1711540800000, 1711548000000, 1711555200000, 1711562400000, 1711569600000, 1711576800000, 1711584000000, 1711591200000, 1711598400000, 1711605600000, 1711612800000, 1711620000000, 1711627200000, 1711634400000, 1711641600000, 1711648800000, 1711656000000, 1711663200000, 1711670400000, 1711677600000, 1711684800000, 1711692000000, 1711699200000, 1711706400000, 1711713600000, 1711720800000, 1711728000000, 1711735200000, 1711742400000, 1711749600000, 1711756800000]}},
        "y": {"datum": 40, "type": "quantitative",
              "axis": {"orient": "right", "title": null, "labels": false, "values": [40, 42, 44, 46, 48, 50, 52, 54, 56, 58]}},
        "y2": {"datum": 55.35}
      }
    },
    {
      "data": {"name": "sun"},
      "mark": {"type": "text", "angle": 270, "align": "left", "baseline": "middle", "font": "DejaVu Sans Mono", "fontSize": 10, "color": "black"},
      "encoding": {
        "x": {"field": "time", "type": "temporal", "axis": null},
        "y": {"datum": 55.65, "type": "quantitative", "axis": null},
        "text": {"field": "event"}
      }
    }
  ]
}
